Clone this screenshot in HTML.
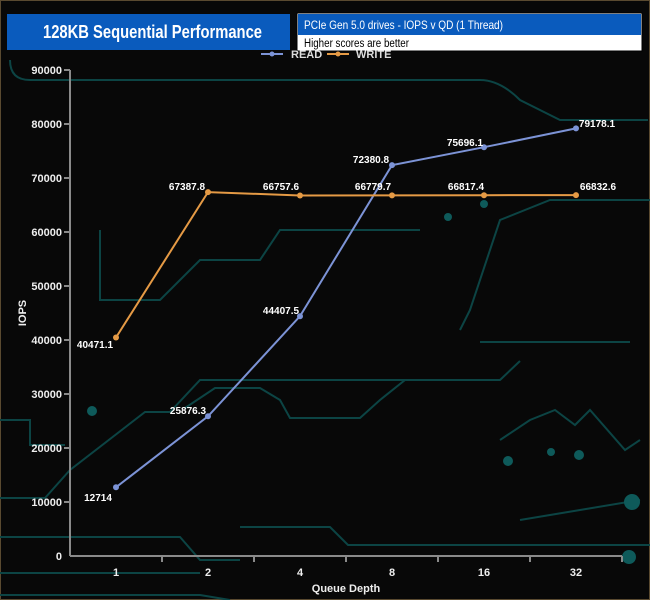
<!DOCTYPE html>
<html><head><style>
body{margin:0;background:#000;}
svg{display:block;font-family:"Liberation Sans",sans-serif;}
</style></head><body>
<svg width="650" height="600" viewBox="0 0 650 600" xmlns="http://www.w3.org/2000/svg">
<rect x="0" y="0" width="650" height="600" fill="#080808"/>
<rect x="0.5" y="0.5" width="649" height="599" fill="none" stroke="#5a4a30" stroke-width="1"/>
<g fill="none" stroke="#0c4444" stroke-width="2">
<path d="M10 60 Q10 80 30 80 L480 80 Q500 80 520 100 L560 120 L648 120"/>
<path d="M0 420 L30 420 L30 445 L65 445"/>
<path d="M0 498 L45 498 L70 470 L145 412 L170 412 L200 380 L500 380 L520 361"/>
<path d="M0 537 L180 537 L200 560 L240 560"/>
<path d="M185 408 L215 388 L260 388 L280 400 L290 418 L360 418 L380 400 L405 380 L460 380"/>
<path d="M0 595 L200 595 L230 600"/>
<path d="M240 527 L330 527 L348 545 L650 545"/>
<path d="M0 573 L200 573"/>
<path d="M480 342 L630 342"/>
<path d="M100 230 L100 300 L160 300 L200 260 L260 260 L280 230 L420 230"/>
<path d="M460 330 L470 310 L500 220 L550 200 L650 200"/>
<path d="M500 440 L530 420 L555 410 L575 425 L590 410 L625 450 L640 440"/>
<path d="M520 520 L640 500"/>
</g>
<g fill="#0e5a5a"><circle cx="92" cy="411" r="5"/><circle cx="632" cy="502" r="8"/><circle cx="629" cy="557" r="7"/><circle cx="508" cy="461" r="5"/><circle cx="551" cy="452" r="4"/><circle cx="579" cy="455" r="5"/><circle cx="484" cy="204" r="4"/><circle cx="448" cy="217" r="4"/></g>
<!-- title -->
<rect x="7" y="14" width="283" height="36" fill="#0a5bbd"/>
<text x="43" y="38" fill="#fff" font-size="18" font-weight="bold" textLength="219" lengthAdjust="spacingAndGlyphs">128KB Sequential Performance</text>
<rect x="297" y="13" width="345" height="38" fill="#fff" stroke="#000" stroke-width="1"/>
<rect x="298" y="14" width="343" height="21" fill="#0a5bbd"/>
<text x="304" y="29" fill="#fff" font-size="12" textLength="199" lengthAdjust="spacingAndGlyphs">PCIe Gen 5.0 drives - IOPS v QD (1 Thread)</text>
<text x="304" y="47" fill="#000" font-size="11.5" textLength="105" lengthAdjust="spacingAndGlyphs">Higher scores are better</text>
<!-- legend -->
<line x1="261" y1="54" x2="283" y2="54" stroke="#7c93d6" stroke-width="2"/><circle cx="272" cy="54" r="2.5" fill="#7c93d6"/>
<text x="291" y="58" fill="#ddd" font-size="11" font-weight="bold">READ</text>
<line x1="327" y1="54" x2="349" y2="54" stroke="#e59a45" stroke-width="2"/><circle cx="338" cy="54" r="2.5" fill="#e59a45"/>
<text x="356" y="58" fill="#ddd" font-size="11" font-weight="bold">WRITE</text>
<!-- axes -->
<g stroke="#8a8a8a" stroke-width="2">
<line x1="70" y1="70" x2="70" y2="556"/><line x1="70" y1="556" x2="622" y2="556"/>
<line x1="64" y1="70" x2="70" y2="70"/><line x1="64" y1="124" x2="70" y2="124"/><line x1="64" y1="178" x2="70" y2="178"/><line x1="64" y1="232" x2="70" y2="232"/><line x1="64" y1="286" x2="70" y2="286"/><line x1="64" y1="340" x2="70" y2="340"/><line x1="64" y1="394" x2="70" y2="394"/><line x1="64" y1="448" x2="70" y2="448"/><line x1="64" y1="502" x2="70" y2="502"/>
<line x1="162" y1="556" x2="162" y2="562"/><line x1="254" y1="556" x2="254" y2="562"/><line x1="346" y1="556" x2="346" y2="562"/><line x1="438" y1="556" x2="438" y2="562"/><line x1="530" y1="556" x2="530" y2="562"/><line x1="622" y1="556" x2="622" y2="562"/>
</g>
<g fill="#eee" font-size="11" font-weight="bold" text-anchor="end">
<text x="62" y="74">90000</text><text x="62" y="128">80000</text><text x="62" y="182">70000</text><text x="62" y="236">60000</text><text x="62" y="290">50000</text><text x="62" y="344">40000</text><text x="62" y="398">30000</text><text x="62" y="452">20000</text><text x="62" y="506">10000</text><text x="62" y="560">0</text>
</g>
<g fill="#eee" font-size="11" font-weight="bold" text-anchor="middle">
<text x="116" y="576">1</text><text x="208" y="576">2</text><text x="300" y="576">4</text><text x="392" y="576">8</text><text x="484" y="576">16</text><text x="576" y="576">32</text>
<text x="346" y="592">Queue Depth</text>
<text transform="translate(26 313) rotate(-90)">IOPS</text>
</g>
<!-- series -->
<polyline points="116,487.3 208,416.3 300,316.2 392,165.1 484,147.2 576,128.4" fill="none" stroke="#7c93d6" stroke-width="2"/>
<g fill="#7c93d6"><circle cx="116" cy="487.3" r="3"/><circle cx="208" cy="416.3" r="3"/><circle cx="300" cy="316.2" r="3"/><circle cx="392" cy="165.1" r="3"/><circle cx="484" cy="147.2" r="3"/><circle cx="576" cy="128.4" r="3"/></g>
<polyline points="116,337.5 208,192.1 300,195.5 392,195.4 484,195.2 576,195.1" fill="none" stroke="#e59a45" stroke-width="2"/>
<g fill="#e59a45"><circle cx="116" cy="337.5" r="3"/><circle cx="208" cy="192.1" r="3"/><circle cx="300" cy="195.5" r="3"/><circle cx="392" cy="195.4" r="3"/><circle cx="484" cy="195.2" r="3"/><circle cx="576" cy="195.1" r="3"/></g>
<g fill="#fff" font-size="10" font-weight="bold" text-anchor="middle">
<text x="98" y="501" >12714</text><text x="188" y="414">25876.3</text><text x="281" y="314">44407.5</text><text x="371" y="163">72380.8</text><text x="465" y="146">75696.1</text><text x="597" y="127">79178.1</text>
<text x="95" y="348">40471.1</text><text x="187" y="190">67387.8</text><text x="281" y="190">66757.6</text><text x="373" y="190">66779.7</text><text x="466" y="190">66817.4</text><text x="598" y="190">66832.6</text>
</g>
</svg>
</body></html>
